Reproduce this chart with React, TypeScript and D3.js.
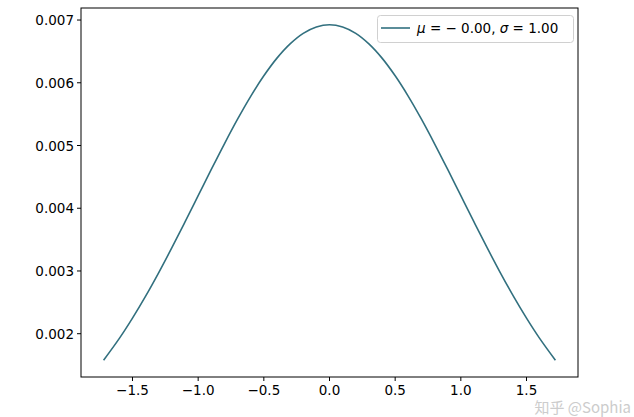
import React from "react";
import * as d3 from "d3";

const xValues = [-1.72, -1.6, -1.5, -1.4, -1.3, -1.2, -1.1, -1.0, -0.9, -0.8, -0.7, -0.6, -0.5, -0.4, -0.3, -0.2, -0.1, 0.0, 0.1, 0.2, 0.3, 0.4, 0.5, 0.6, 0.7, 0.8, 0.9, 1.0, 1.1, 1.2, 1.3, 1.4, 1.5, 1.6, 1.72];
const yValues = [0.001577, 0.001925, 0.002248, 0.002599, 0.002975, 0.003371, 0.003782, 0.0042, 0.004619, 0.005028, 0.00542, 0.005784, 0.006111, 0.006393, 0.00662, 0.006788, 0.00689, 0.006925, 0.00689, 0.006788, 0.00662, 0.006393, 0.006111, 0.005784, 0.00542, 0.005028, 0.004619, 0.0042, 0.003782, 0.003371, 0.002975, 0.002599, 0.002248, 0.001925, 0.001577];
const xTicks = [-1.5, -1.0, -0.5, 0.0, 0.5, 1.0, 1.5];
const yTicks = [0.002, 0.003, 0.004, 0.005, 0.006, 0.007];

export default function App() {
  const W = 634, H = 417;
  const left = 81, right = 578, top = 8, bottom = 377;
  const x = d3.scaleLinear().domain([-1.892, 1.892]).range([left, right]);
  const y = d3.scaleLinear().domain([0.001310, 0.007192]).range([bottom, top]);
  const pts = xValues.map((v, i) => [v, yValues[i]] as [number, number]);
  const line = d3.line<[number, number]>().x(d => x(d[0])).y(d => y(d[1])).curve(d3.curveCatmullRom.alpha(0.5));
  const color = "#32707f";
  const font = "DejaVu Sans";
  return (
    <svg width={W} height={H} style={{ position: "absolute", left: 0, top: 0, background: "#fff" }} fontFamily={font}>
      <rect x={0} y={0} width={W} height={H} fill="#fff" />
      <path d={line(pts) || ""} fill="none" stroke={color} strokeWidth={1.6} />
      <rect x={left} y={top} width={right - left} height={bottom - top} fill="none" stroke="#000" strokeWidth={1} />
      {xTicks.map(t => (
        <g key={"x" + t}>
          <line x1={x(t)} x2={x(t)} y1={bottom} y2={bottom + 4} stroke="#000" />
          <text x={x(t)} y={bottom + 18} textAnchor="middle" fontSize={13.5} fill="#000">
            {(t < 0 ? "−" : "") + Math.abs(t).toFixed(1)}
          </text>
        </g>
      ))}
      {yTicks.map(t => (
        <g key={"y" + t}>
          <line x1={left - 4} x2={left} y1={y(t)} y2={y(t)} stroke="#000" />
          <text x={left - 7} y={y(t) + 5} textAnchor="end" fontSize={13.5} fill="#000">
            {t.toFixed(3)}
          </text>
        </g>
      ))}
      <rect x={377.5} y={15.5} width={196} height={27} rx={3} fill="#fff" stroke="#d0d0d0" strokeWidth={1} />
      <line x1={381} x2={410} y1={28} y2={28} stroke={color} strokeWidth={1.6} />
      <text x={417} y={33} fontSize={13.5} fill="#000">
        <tspan fontStyle="italic">μ</tspan>
        <tspan> = − 0.00,  </tspan>
        <tspan fontStyle="italic">σ</tspan>
        <tspan> = 1.00</tspan>
      </text>
      <text x={631} y={413} fontSize={15} fill="#cccccc" textAnchor="end" fontFamily="Noto Sans CJK SC">知乎 @Sophia</text>
    </svg>
  );
}
